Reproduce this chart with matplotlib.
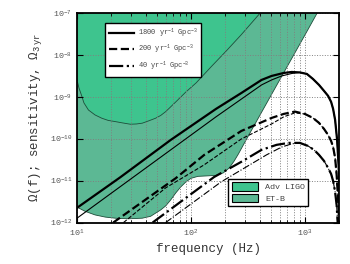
import matplotlib
matplotlib.use("Agg")
import matplotlib.pyplot as plt
import numpy as np
from matplotlib.ticker import LogLocator, NullFormatter, NullLocator
from matplotlib.patches import Patch

plt.rcParams['font.family'] = ['Liberation Mono', 'DejaVu Sans']
plt.rcParams['mathtext.fontset'] = 'custom'
plt.rcParams['mathtext.rm'] = 'Liberation Mono'
plt.rcParams['mathtext.it'] = 'Liberation Mono'

# --- detector sensitivity curves ---
aligo_f = [10, 10.4, 11.0, 11.5, 12.6, 14.4, 16.5, 18.8, 21.7, 25.0, 29.4, 33.2, 37.4,
           42.5, 49.0, 54.3, 60.1, 73.7, 90.3, 111, 150, 204, 277, 408, 490]
aligo_om = [2.5e-9, 1.61e-9, 1.04e-9, 7.1e-10, 4.8e-10, 3.66e-10, 3.06e-10, 2.71e-10,
            2.54e-10, 2.37e-10, 2.2e-10, 2.23e-10, 2.33e-10, 2.64e-10, 3.06e-10, 3.56e-10,
            4.4e-10, 7.5e-10, 1.29e-9, 2.12e-9, 5.1e-9, 1.22e-8, 3.0e-8, 1e-7, 1.7e-7]
etb_f = [10, 11.8, 14.4, 17.7, 21.7, 28.2, 37.4, 44.3, 49.0, 54.3, 60.1, 66.5, 73.7,
         81.6, 90.3, 100, 115, 136, 166, 192, 217, 240, 261, 307, 376, 461, 565, 767,
         1042, 1277, 1473]
etb_om = [2.33e-12, 1.85e-12, 1.52e-12, 1.35e-12, 1.27e-12, 1.23e-12, 1.27e-12, 1.41e-12,
          1.68e-12, 2.0e-12, 2.5e-12, 3.47e-12, 5.1e-12, 7.1e-12, 9.3e-12, 1.13e-11,
          1.26e-11, 1.29e-11, 1.33e-11, 1.52e-11, 2.0e-11, 2.94e-11, 4.3e-11, 9.6e-11,
          2.57e-10, 6.9e-10, 1.85e-9, 8.1e-9, 3.56e-8, 9.6e-8, 1.9e-7]

# --- signal curves (rates in yr^-1 Gpc^-3); thick and thin versions ---
s1800_f = [10, 24, 66.5, 166, 277, 417, 511, 652, 767, 904, 1042, 1177, 1331, 1473,
           1600, 1700, 1770, 1843, 1919, 1977, 2018, 2061]
s1800_om = [2.24e-12, 1.2e-11, 9.3e-11, 5.1e-10, 1.22e-9, 2.5e-9, 3.11e-9, 3.66e-9,
            3.87e-9, 3.77e-9, 3.47e-9, 2.64e-9, 1.9e-9, 1.37e-9, 1.04e-9, 7.5e-10,
            5.1e-10, 2.8e-10, 9.3e-11, 2.35e-11, 4.5e-12, 6e-13]
s1800b_f = [10, 66.5, 166, 417, 511, 626, 767, 904, 1042, 1177, 1331, 1473,
            1600, 1700, 1770, 1843, 1919, 1977, 2018, 2061]
s1800b_om = [1.27e-12, 5.4e-11, 3.3e-10, 1.9e-9, 2.5e-9, 3.11e-9, 3.56e-9, 3.77e-9,
             3.47e-9, 2.64e-9, 1.9e-9, 1.37e-9, 1.04e-9, 7.5e-10, 5.1e-10, 2.8e-10,
             9.3e-11, 2.35e-11, 4.5e-12, 6e-13]

s200_f = [20.8, 73.6, 131, 277, 511, 652, 817, 1000, 1177, 1331, 1473, 1600, 1700,
          1770, 1843, 1901, 1959, 2018]
s200_om = [1e-12, 1.14e-11, 4.1e-11, 1.52e-10, 3.11e-10, 3.87e-10, 4.4e-10, 3.87e-10,
           3.11e-10, 2.37e-10, 1.7e-10, 1.22e-10, 8.8e-11, 6.3e-11, 3.5e-11, 1.37e-11,
           3.5e-12, 6e-13]
s200b_f = [25.6, 60, 130, 277, 511, 652, 817, 1000, 1177, 1331, 1473, 1600, 1700,
           1770, 1843, 1901, 1959, 2018]
s200b_om = [1e-12, 6.7e-12, 2.35e-11, 9.8e-11, 2.24e-10, 3.3e-10, 4.1e-10, 3.87e-10,
            3.11e-10, 2.37e-10, 1.7e-10, 1.22e-10, 8.8e-11, 6.3e-11, 3.5e-11, 1.37e-11,
            3.5e-12, 6e-13]

s40_f = [46.1, 160, 277, 417, 565, 721, 904, 1064, 1203, 1331, 1473, 1600, 1700, 1770,
         1843, 1901, 1941, 1990]
s40_om = [1e-12, 1.22e-11, 2.8e-11, 5.4e-11, 7.1e-11, 7.9e-11, 7.9e-11, 6.7e-11,
          5.4e-11, 4.1e-11, 2.94e-11, 2.0e-11, 1.44e-11, 9.8e-12, 5.4e-12, 2.6e-12,
          1e-12, 3.9e-13]
s40b_f = [60, 184, 277, 461, 626, 767, 904, 1064, 1203, 1331, 1473, 1600, 1700, 1770,
          1843, 1901, 1941, 1990]
s40b_om = [1e-12, 9.3e-12, 1.8e-11, 4.1e-11, 6.3e-11, 7.5e-11, 7.9e-11, 6.7e-11,
           5.4e-11, 4.1e-11, 2.94e-11, 2.0e-11, 1.44e-11, 9.8e-12, 5.4e-12, 2.6e-12,
           1e-12, 3.9e-13]

labels = ['1800 yr$^{-1}$ Gpc$^{-3}$', '200 yr$^{-1}$ Gpc$^{-3}$', '40 yr$^{-1}$ Gpc$^{-3}$']
det_labels = ['Adv LIGO', 'ET-B']

c_aligo = '#3ec48e'
c_etb = '#5cb894'

fig = plt.figure(figsize=(3.5, 2.64), dpi=100)
ax = fig.add_axes([0.22, 0.157, 0.749, 0.795])

ax.fill_between(etb_f, etb_om, 1.0, facecolor=c_etb, edgecolor='none', zorder=1)
ax.plot(etb_f, etb_om, color='#1d4d3a', lw=0.6, zorder=1.1)
ax.fill_between(aligo_f, aligo_om, 1.0, facecolor=c_aligo, edgecolor='none', zorder=1.2)
ax.plot(aligo_f, aligo_om, color='#1d4d3a', lw=0.6, zorder=1.3)

h1, = ax.plot(s1800_f, s1800_om, 'k-', lw=1.6, zorder=3)
ax.plot(s1800b_f, s1800b_om, 'k-', lw=0.8, zorder=3)
h2, = ax.plot(s200_f, s200_om, 'k--', lw=1.6, zorder=3)
ax.plot(s200b_f, s200b_om, 'k--', lw=0.8, zorder=3)
h3, = ax.plot(s40_f, s40_om, 'k-.', lw=1.6, zorder=3)
ax.plot(s40b_f, s40b_om, 'k-.', lw=0.8, zorder=3)

ax.set_xscale('log')
ax.set_yscale('log')
ax.set_xlim(10, 2000)
ax.set_ylim(1e-12, 1e-7)

ax.grid(True, which='both', axis='x', ls=':', color='#808080', lw=0.7)
ax.grid(True, which='major', axis='y', ls=':', color='#808080', lw=0.7)
ax.yaxis.set_minor_locator(NullLocator())
ax.xaxis.set_minor_locator(LogLocator(base=10, subs=np.arange(2, 10)))
ax.xaxis.set_minor_formatter(NullFormatter())

ax.tick_params(which='both', direction='in', top=True, right=True,
               labelsize=6, labelcolor='#555555')
ax.tick_params(which='major', length=4, width=0.8)
ax.tick_params(which='minor', length=2, width=0.6)
for s in ax.spines.values():
    s.set_linewidth(1.3)

ax.set_xlabel('frequency (Hz)', fontsize=9, color='#333333', labelpad=3)
ax.set_ylabel(r'$\Omega$(f); sensitivity, $\Omega_{\rm 3\ yr}$', fontsize=9,
              color='#333333', labelpad=4)

leg1 = ax.legend([h1, h2, h3], labels, loc='upper left',
                 bbox_to_anchor=(0.095, 0.968), fontsize=5, handlelength=3.6,
                 handletextpad=0.5, fancybox=False, framealpha=1, edgecolor='black',
                 borderpad=0.55, labelspacing=0.45)
leg1.get_frame().set_linewidth(1.0)
for t in leg1.get_texts():
    t.set_color('#444444')
ax.add_artist(leg1)

p1 = Patch(facecolor=c_aligo, edgecolor='black', lw=0.8)
p2 = Patch(facecolor=c_etb, edgecolor='black', lw=0.8)
leg2 = ax.legend([p1, p2], det_labels, loc='lower right',
                 bbox_to_anchor=(0.898, 0.058), fontsize=6, handlelength=3.2,
                 handleheight=1.2, fancybox=False, framealpha=1, edgecolor='black',
                 borderpad=0.4, labelspacing=0.3)
leg2.get_frame().set_linewidth(1.0)
for t in leg2.get_texts():
    t.set_color('#444444')

fig.savefig('out.png', dpi=100)
